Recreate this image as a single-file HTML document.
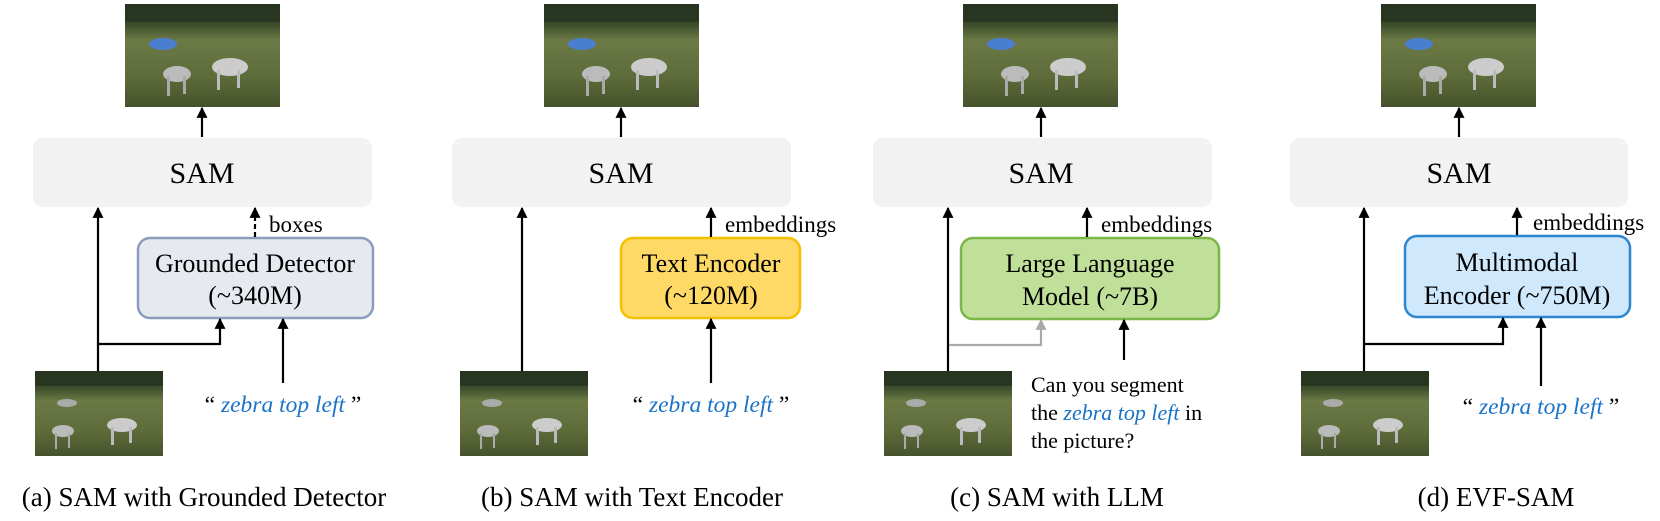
<!DOCTYPE html>
<html><head><meta charset="utf-8"><style>
body{margin:0;background:#fff}
svg text{font-family:"Liberation Serif",serif}
</style></head><body>
<svg width="1660" height="516" viewBox="0 0 1660 516" xmlns="http://www.w3.org/2000/svg">
<defs>
<linearGradient id="g" x1="0" y1="0" x2="0" y2="1">
<stop offset="0" stop-color="#2c3a22"/><stop offset="0.2" stop-color="#3d4d2a"/><stop offset="0.35" stop-color="#6b7a45"/><stop offset="0.7" stop-color="#5e6c3a"/><stop offset="1" stop-color="#46522c"/>
</linearGradient>
<marker id="ah" viewBox="0 0 10 10" refX="9" refY="5" markerWidth="5" markerHeight="5" orient="auto"><path d="M0,0L10,5L0,10z" fill="#000"/></marker>
<marker id="ahg" viewBox="0 0 10 10" refX="9" refY="5" markerWidth="5" markerHeight="5" orient="auto"><path d="M0,0L10,5L0,10z" fill="#aaa"/></marker>
<g id="imgTop">
<rect width="155" height="103" fill="url(#g)"/>
<rect x="0" y="0" width="155" height="18" fill="#263320" opacity="0.8"/>
<ellipse cx="38" cy="40" rx="14" ry="6" fill="#4a7fd0"/>
<ellipse cx="52" cy="70" rx="14" ry="8" fill="#bbb"/><rect x="42" y="72" width="3" height="20" fill="#aaa"/><rect x="58" y="72" width="3" height="18" fill="#aaa"/>
<ellipse cx="105" cy="63" rx="18" ry="9" fill="#ccc"/><rect x="92" y="66" width="3" height="20" fill="#bbb"/><rect x="112" y="66" width="3" height="18" fill="#bbb"/>
</g>
<g id="imgBot">
<rect width="128" height="85" fill="url(#g)"/>
<rect x="0" y="0" width="128" height="15" fill="#263320" opacity="0.8"/>
<ellipse cx="32" cy="32" rx="10" ry="4" fill="#aaa"/>
<ellipse cx="28" cy="60" rx="11" ry="6" fill="#bbb"/><rect x="20" y="62" width="2" height="16" fill="#aaa"/><rect x="33" y="62" width="2" height="15" fill="#aaa"/>
<ellipse cx="87" cy="54" rx="15" ry="7" fill="#ccc"/><rect x="76" y="56" width="3" height="18" fill="#bbb"/><rect x="94" y="56" width="3" height="16" fill="#bbb"/>
</g>
</defs>

<!-- Panel a -->
<use href="#imgTop" x="125" y="4"/>
<rect x="33" y="138" width="339" height="69" rx="10" fill="#f2f2f2"/>
<text x="202" y="183" font-size="30" text-anchor="middle">SAM</text>
<rect x="138" y="238" width="235" height="80" rx="12" fill="#e6eaf0" stroke="#8a9dbd" stroke-width="2.5"/>
<text x="255" y="272" font-size="26" text-anchor="middle">Grounded Detector</text>
<text x="255" y="304" font-size="26" text-anchor="middle">(~340M)</text>
<text x="269" y="232" font-size="23">boxes</text>
<use href="#imgBot" x="35" y="371"/>
<text x="283" y="412" font-size="23.5" text-anchor="middle">“ <tspan fill="#1a73c8" font-style="italic">zebra top left</tspan> ”</text>
<text x="204" y="506" font-size="27" text-anchor="middle">(a) SAM with Grounded Detector</text>
<g stroke="#000" stroke-width="2.2" fill="none">
<line x1="202" y1="137" x2="202" y2="108" marker-end="url(#ah)"/>
<line x1="98" y1="371" x2="98" y2="208" marker-end="url(#ah)"/>
<line x1="255" y1="237" x2="255" y2="208" stroke-dasharray="5,3" marker-end="url(#ah)"/>
<polyline points="98,344 220,344 220,319" marker-end="url(#ah)"/>
<line x1="283" y1="383" x2="283" y2="319" marker-end="url(#ah)"/>
</g>

<!-- Panel b -->
<use href="#imgTop" x="544" y="4"/>
<rect x="452" y="138" width="339" height="69" rx="10" fill="#f2f2f2"/>
<text x="621" y="183" font-size="30" text-anchor="middle">SAM</text>
<rect x="621" y="238" width="179" height="80" rx="12" fill="#ffd966" stroke="#f5c000" stroke-width="2.5"/>
<text x="711" y="272" font-size="26" text-anchor="middle">Text Encoder</text>
<text x="711" y="304" font-size="26" text-anchor="middle">(~120M)</text>
<text x="725" y="232" font-size="23">embeddings</text>
<use href="#imgBot" x="460" y="371"/>
<text x="711" y="412" font-size="23.5" text-anchor="middle">“ <tspan fill="#1a73c8" font-style="italic">zebra top left</tspan> ”</text>
<text x="632" y="506" font-size="27" text-anchor="middle">(b) SAM with Text Encoder</text>
<g stroke="#000" stroke-width="2.2" fill="none">
<line x1="621" y1="137" x2="621" y2="108" marker-end="url(#ah)"/>
<line x1="522" y1="371" x2="522" y2="208" marker-end="url(#ah)"/>
<line x1="711" y1="237" x2="711" y2="208" marker-end="url(#ah)"/>
<line x1="711" y1="383" x2="711" y2="319" marker-end="url(#ah)"/>
</g>

<!-- Panel c -->
<use href="#imgTop" x="963" y="4"/>
<rect x="873" y="138" width="339" height="69" rx="10" fill="#f2f2f2"/>
<text x="1041" y="183" font-size="30" text-anchor="middle">SAM</text>
<rect x="961" y="238" width="258" height="81" rx="12" fill="#c0e09a" stroke="#7ab648" stroke-width="2.5"/>
<text x="1090" y="272" font-size="26" text-anchor="middle">Large Language</text>
<text x="1090" y="305" font-size="26" text-anchor="middle">Model (~7B)</text>
<text x="1101" y="232" font-size="23">embeddings</text>
<use href="#imgBot" x="884" y="371"/>
<text x="1031" y="392" font-size="22">Can you segment</text>
<text x="1031" y="420" font-size="22">the <tspan fill="#1a73c8" font-style="italic">zebra top left</tspan> in</text>
<text x="1031" y="448" font-size="22">the picture?</text>
<text x="1057" y="506" font-size="27" text-anchor="middle">(c) SAM with LLM</text>
<g stroke="#000" stroke-width="2.2" fill="none">
<line x1="1041" y1="137" x2="1041" y2="108" marker-end="url(#ah)"/>
<polyline points="948,345 1041,345 1041,320" stroke="#aaa" marker-end="url(#ahg)"/>
<line x1="948" y1="371" x2="948" y2="208" marker-end="url(#ah)"/>
<line x1="1087" y1="237" x2="1087" y2="208" marker-end="url(#ah)"/>
<line x1="1124" y1="360" x2="1124" y2="320" marker-end="url(#ah)"/>
</g>

<!-- Panel d -->
<use href="#imgTop" x="1381" y="4"/>
<rect x="1290" y="138" width="338" height="69" rx="10" fill="#f2f2f2"/>
<text x="1459" y="183" font-size="30" text-anchor="middle">SAM</text>
<rect x="1405" y="236" width="225" height="81" rx="12" fill="#cfe8fb" stroke="#2e86d0" stroke-width="2.5"/>
<text x="1517" y="271" font-size="26" text-anchor="middle">Multimodal</text>
<text x="1517" y="304" font-size="26" text-anchor="middle">Encoder (~750M)</text>
<text x="1533" y="230" font-size="23">embeddings</text>
<use href="#imgBot" x="1301" y="371"/>
<text x="1541" y="414" font-size="23.5" text-anchor="middle">“ <tspan fill="#1a73c8" font-style="italic">zebra top left</tspan> ”</text>
<text x="1496" y="506" font-size="27" text-anchor="middle">(d) EVF-SAM</text>
<g stroke="#000" stroke-width="2.2" fill="none">
<line x1="1459" y1="137" x2="1459" y2="108" marker-end="url(#ah)"/>
<line x1="1364" y1="371" x2="1364" y2="208" marker-end="url(#ah)"/>
<line x1="1517" y1="235" x2="1517" y2="208" marker-end="url(#ah)"/>
<polyline points="1364,344 1503,344 1503,318" marker-end="url(#ah)"/>
<line x1="1541" y1="386" x2="1541" y2="318" marker-end="url(#ah)"/>
</g>
</svg>
</body></html>
